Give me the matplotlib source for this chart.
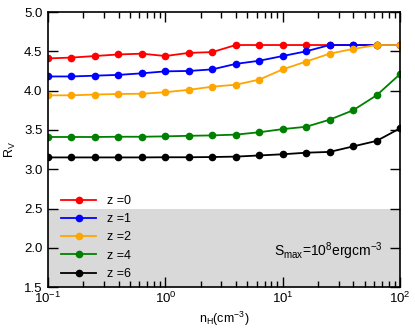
import matplotlib
matplotlib.use("Agg")
import matplotlib.pyplot as plt
import numpy as np

# density grid (cm^-3) and R_V per redshift
n_h = [0.1, 0.158, 0.251, 0.398, 0.631, 1.0, 1.585, 2.512, 3.981, 6.31,
       10.0, 15.85, 25.12, 39.81, 63.1, 100.0]
rv_z0 = [4.41, 4.42, 4.44, 4.46, 4.47, 4.44, 4.48, 4.49, 4.58, 4.58, 4.58, 4.58, 4.58, 4.58, 4.58, 4.58]
rv_z1 = [4.18, 4.18, 4.19, 4.20, 4.22, 4.245, 4.25, 4.27, 4.34, 4.38, 4.44, 4.50, 4.58, 4.58, 4.58, 4.58]
rv_z2 = [3.94, 3.94, 3.95, 3.957, 3.96, 3.98, 4.01, 4.05, 4.075, 4.14, 4.27, 4.37, 4.47, 4.53, 4.58, 4.58]
rv_z4 = [3.41, 3.41, 3.41, 3.413, 3.413, 3.418, 3.425, 3.43, 3.44, 3.47, 3.51, 3.54, 3.63, 3.75, 3.94, 4.21]
rv_z6 = [3.15, 3.15, 3.15, 3.15, 3.15, 3.152, 3.152, 3.155, 3.16, 3.175, 3.19, 3.21, 3.22, 3.29, 3.36, 3.52]

series = [("z =0", rv_z0, "red"), ("z =1", rv_z1, "blue"), ("z =2", rv_z2, "orange"),
          ("z =4", rv_z4, "green"), ("z =6", rv_z6, "black")]

plt.rcParams["font.family"] = ["Liberation Sans", "DejaVu Sans"]
plt.rcParams["mathtext.fontset"] = "custom"
plt.rcParams["mathtext.rm"] = "Liberation Sans"
plt.rcParams["mathtext.it"] = "Liberation Sans"

fig = plt.figure(figsize=(4.15, 3.3), dpi=100)
ax = fig.add_axes([0.1157, 0.130, 0.8483, 0.8336])

ax.axhspan(1.5, 2.5, color="#d9d9d9", lw=0, zorder=0)
for label, vals, c in series:
    ax.plot(n_h, vals, "-o", color=c, lw=1.3, ms=4.5, label=label)

ax.set_xscale("log")
ax.set_xlim(0.1, 100)
ax.set_ylim(1.5, 5.0)
ax.set_yticks(np.arange(1.5, 5.01, 0.5))
ax.tick_params(which="both", direction="in", top=True, right=True, labelsize=9.5)
ax.tick_params(which="major", length=7, width=1)
ax.tick_params(which="minor", length=4, width=1)
ax.tick_params(axis="x", which="both", pad=2.5)
ax.tick_params(axis="y", which="both", pad=4)
for s in ax.spines.values():
    s.set_linewidth(1.2)

ax.set_xlabel(r"n$_\mathrm{H}$(cm$^{-3}$)", fontsize=9, labelpad=3)
ax.set_ylabel(r"R$_\mathrm{V}$", fontsize=9)
ax.text(0.95, 0.13, r"S$_\mathrm{max}$=10$^8$ergcm$^{-3}$", transform=ax.transAxes,
        ha="right", va="center", fontsize=10)
ax.legend(loc="lower left", bbox_to_anchor=(0.005, -0.015), frameon=False, fontsize=9,
          handlelength=2.8, handletextpad=0.9, labelspacing=0.5)

fig.savefig("out.png", dpi=100)
